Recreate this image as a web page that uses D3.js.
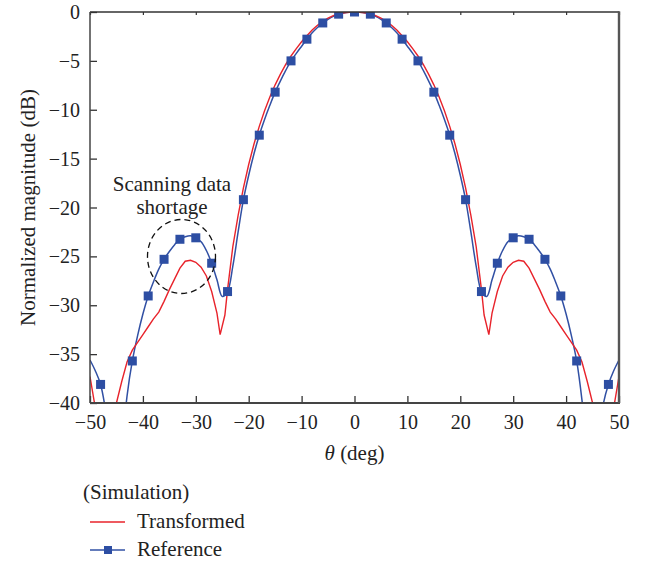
<!DOCTYPE html>
<html>
<head>
<meta charset="utf-8">
<script src="https://cdn.jsdelivr.net/npm/d3@7/dist/d3.min.js"></script>
<style>
  body { margin: 0; background: #fff; }
  text { font-family: "Liberation Serif", "Times New Roman", serif; fill: #222; }
</style>
</head>
<body>
<div id="chart"></div>
<script>
// theta grid (deg) and reference pattern (dB)
var thetaRef = [-50,-49,-48,-47,-46,-45,-44,-43,-42,-41,-40,-39,-38,-37,-36,-35,-34,-33,-32,-31,
  -30,-29,-28,-27,-26,-25,-24,-23,-22,-21,-20,-19,-18,-17,-16,-15,-14,-13,-12,-11,
  -10,-9,-8,-7,-6,-5,-4,-3,-2,-1,0,1,2,3,4,5,6,7,8,9,
  10,11,12,13,14,15,16,17,18,19,20,21,22,23,24,25,26,27,28,29,
  30,31,32,33,34,35,36,37,38,39,40,41,42,43,44,45,46,47,48,49,50]
var refDb = [-35.6,-36.7,-38.1,-41.0,-46.0,-52.0,-45.0,-39.3,-35.7,-33.1,-30.9,-29.05,-27.6,-26.3,-25.3,-24.5,-23.8,-23.25,-23.0,-22.9,
  -23.1,-23.5,-24.4,-25.7,-27.4,-29.1,-28.6,-26.0,-22.5,-19.2,-16.7,-14.5,-12.6,-11.0,-9.55,-8.2,-7.05,-5.98,-5.0,-4.23,
  -3.5,-2.78,-2.13,-1.58,-1.12,-0.75,-0.45,-0.22,-0.1,-0.03,0,-0.03,-0.1,-0.22,-0.45,-0.75,-1.12,-1.58,-2.13,-2.78,
  -3.5,-4.23,-5.0,-5.98,-7.05,-8.2,-9.55,-11.0,-12.6,-14.5,-16.7,-19.2,-22.5,-26.0,-28.6,-29.1,-27.4,-25.7,-24.4,-23.5,
  -23.1,-22.9,-23.0,-23.25,-23.8,-24.5,-25.3,-26.3,-27.6,-29.05,-30.9,-33.1,-35.7,-39.7,-45.0,-52.0,-45.0,-40.2,-38.1,-36.7,-35.6]

// which reference samples carry a square marker
var markerTheta = [-48,-45,-42,-39,-36,-33,-30,-27,-24,-21,-18,-15,-12,-9,-6,-3,0,
  3,6,9,12,15,18,21,24,27,30,33,36,39,42,45,48]

// transformed pattern (dB), own theta grid
var thetaTrans = [-50,-49,-48,-47,-46,-45,-44,-43,-42,-41,-40,-39,-38,-37,-36,-35,-34,-33,-32,-31,
  -30,-29,-28,-27,-26,-25.4,-24.5,-24,-23,-22,-21,-20,-19,-18,-17,-16,-15,-14,-13,-12,-11,
  -10,-9,-8,-7,-6,-5,-4,-3,-2,-1,0,1,2,3,4,5,6,7,8,9,
  10,11,12,13,14,15,16,17,18,19,20,21,22,23,24,24.5,25.4,26,27,28,29,
  30,31,32,33,34,35,36,37,38,39,40,41,42,43,44,45,46,47,48,49,50]
var transDb = [-37.3,-40.5,-43.5,-44.5,-42.5,-40.0,-37.8,-35.8,-34.6,-33.8,-33.0,-32.2,-31.4,-30.7,-29.6,-28.4,-27.3,-26.2,-25.5,-25.4,
  -25.6,-26.1,-27.0,-28.6,-30.8,-33.0,-31.0,-28.4,-24.0,-20.8,-18.0,-15.6,-13.5,-11.7,-10.1,-8.7,-7.45,-6.35,-5.35,-4.5,-3.75,
  -3.05,-2.42,-1.85,-1.35,-0.95,-0.63,-0.38,-0.18,-0.08,-0.02,0,-0.02,-0.08,-0.18,-0.38,-0.63,-0.95,-1.35,-1.85,-2.42,
  -3.05,-3.75,-4.5,-5.35,-6.35,-7.45,-8.7,-10.1,-11.7,-13.5,-15.6,-18.0,-20.8,-24.0,-28.4,-31.0,-33.0,-30.8,-28.6,-27.0,-26.1,
  -25.6,-25.4,-25.5,-26.2,-27.3,-28.4,-29.6,-30.7,-31.4,-32.2,-33.0,-33.8,-34.6,-35.8,-37.8,-40.0,-42.5,-44.5,-43.5,-40.5,-37.3]

var xTicks = [-50,-40,-30,-20,-10,0,10,20,30,40,50]
var yTicks = [0,-5,-10,-15,-20,-25,-30,-35,-40]

var W = 647, H = 565
var pL = 90, pR = 619, pT = 12, pB = 403

var svg = d3.select("#chart").append("svg")
  .attr("width", W)
  .attr("height", H)

var x = d3.scaleLinear().domain([-50, 50]).range([pL, pR])
var y = d3.scaleLinear().domain([-40, 0]).range([pB, pT])

function fmt(v){ return v < 0 ? "\u2212" + Math.abs(v) : "" + v }

svg.append("clipPath").attr("id", "plotclip")
  .append("rect")
  .attr("x", pL).attr("y", pT)
  .attr("width", pR - pL).attr("height", pB - pT)

// ticks inside the frame
var xAxis = svg.append("g")
  .attr("transform", "translate(0," + pB + ")")
  .call(d3.axisBottom(x).tickValues(xTicks).tickSize(-7).tickFormat(fmt))
xAxis.select(".domain").remove()
xAxis.selectAll("line").attr("stroke", "#333").attr("stroke-width", 1.3)
xAxis.selectAll("text")
  .attr("y", 26).attr("dy", 0)
  .style("font-size", "20px")
  .style("font-family", "Liberation Serif")
  .attr("fill", "#222")

var xTop = svg.append("g")
  .attr("transform", "translate(0," + pT + ")")
  .call(d3.axisTop(x).tickValues(xTicks).tickSize(-3).tickFormat(""))
xTop.select(".domain").remove()
xTop.selectAll("line").attr("stroke", "#333").attr("stroke-width", 1.2)

var yAxis = svg.append("g")
  .attr("transform", "translate(" + pL + ",0)")
  .call(d3.axisLeft(y).tickValues(yTicks).tickSize(-7).tickPadding(10).tickFormat(fmt))
yAxis.select(".domain").remove()
yAxis.selectAll("line").attr("stroke", "#333").attr("stroke-width", 1.3)
yAxis.selectAll("text")
  .attr("x", -10)
  .attr("dy", "0.33em")
  .style("font-size", "20px")
  .style("font-family", "Liberation Serif")
  .attr("fill", "#222")

// curves
var plot = svg.append("g").attr("clip-path", "url(#plotclip)")

var transLine = d3.line()
  .x((d, i) => x(thetaTrans[i]))
  .y((d) => y(d))

var refLine = d3.line()
  .x((d, i) => x(thetaRef[i]))
  .y((d) => y(d))
  .curve(d3.curveCatmullRom.alpha(0.5))

plot.append("path")
  .attr("d", refLine(refDb))
  .attr("fill", "none")
  .attr("stroke", "#3150a4")
  .attr("stroke-width", 1.5)

plot.append("path")
  .attr("d", transLine(transDb))
  .attr("fill", "none")
  .attr("stroke", "#e8232b")
  .attr("stroke-width", 1.4)

var ms = 9
plot.selectAll(".mk")
  .data(markerTheta)
  .enter()
    .append("rect")
    .attr("class", "mk")
    .attr("x", (d) => x(d) - ms / 2)
    .attr("y", (d) => y(refDb[thetaRef.indexOf(d)]) - ms / 2)
    .attr("width", ms)
    .attr("height", ms)
    .attr("fill", "#2d4ea3")

// frame
var frame = svg.append("g").attr("fill", "none")
frame.append("line").attr("x1", pL).attr("x2", pR).attr("y1", pT).attr("y2", pT)
  .attr("stroke", "#333").attr("stroke-width", 1.5)
frame.append("line").attr("x1", pL).attr("x2", pL).attr("y1", pT).attr("y2", pB)
  .attr("stroke", "#444").attr("stroke-width", 1.5)
frame.append("line").attr("x1", pL).attr("x2", pR + 1).attr("y1", pB).attr("y2", pB)
  .attr("stroke", "#444").attr("stroke-width", 2.2)
frame.append("line").attr("x1", pR).attr("x2", pR).attr("y1", pT - 0.7).attr("y2", pB)
  .attr("stroke", "#555").attr("stroke-width", 2.4)

// annotation
svg.append("ellipse")
  .attr("cx", 181.5).attr("cy", 256.5)
  .attr("rx", 34).attr("ry", 37)
  .attr("fill", "none")
  .attr("stroke", "#111")
  .attr("stroke-width", 1.3)
  .attr("stroke-dasharray", "6,4")

svg.append("text").attr("x", 172).attr("y", 191)
  .attr("text-anchor", "middle").style("font-size", "21px")
  .text("Scanning data")
svg.append("text").attr("x", 172).attr("y", 214)
  .attr("text-anchor", "middle").style("font-size", "21px")
  .text("shortage")

// axis titles
svg.append("text")
  .attr("x", (pL + pR) / 2).attr("y", 460)
  .attr("text-anchor", "middle").style("font-size", "21px")
  .html('<tspan font-style="italic">θ</tspan> (deg)')

svg.append("text")
  .attr("transform", "translate(35," + ((pT + pB) / 2) + ") rotate(-90)")
  .attr("text-anchor", "middle").style("font-size", "21px")
  .text("Normalized magnitude (dB)")

// legend
svg.append("text").attr("x", 83).attr("y", 499).style("font-size", "21px").text("(Simulation)")

var lg = svg.append("g")
lg.append("line").attr("x1", 90).attr("x2", 125).attr("y1", 522).attr("y2", 522)
  .attr("stroke", "#e8232b").attr("stroke-width", 1.4)
lg.append("text").attr("x", 137).attr("y", 528).style("font-size", "21px").text("Transformed")

lg.append("line").attr("x1", 90).attr("x2", 125).attr("y1", 550).attr("y2", 550)
  .attr("stroke", "#3150a4").attr("stroke-width", 1.5)
lg.append("rect").attr("x", 104).attr("y", 546).attr("width", 8).attr("height", 8)
  .attr("fill", "#2d4ea3")
lg.append("text").attr("x", 137).attr("y", 556).style("font-size", "21px").text("Reference")
</script>
</body>
</html>
